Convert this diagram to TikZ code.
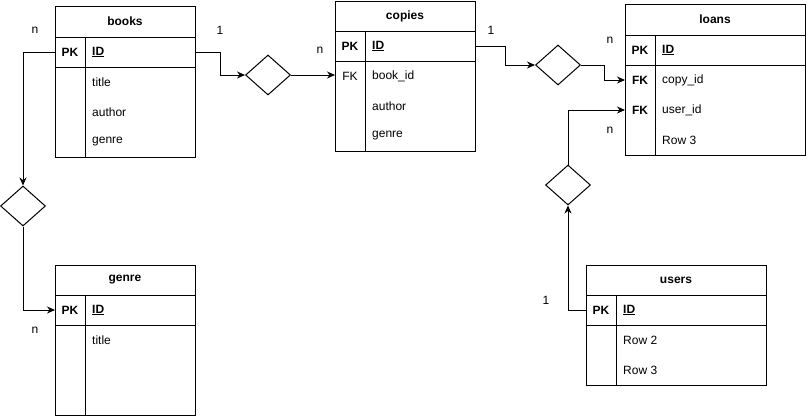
\documentclass[tikz,border=0pt]{standalone}
\usepackage{fontspec}
\setmainfont{Liberation Sans}
\usetikzlibrary{arrows.meta,shapes.geometric}
\begin{document}
\begin{tikzpicture}[x=1pt,y=-1pt,
  every node/.style={font=\fontsize{12}{14}\selectfont},
  box/.style={draw, line width=1pt, inner sep=0pt, outer sep=0pt, anchor=north west},
  hdr/.style={box, font=\fontsize{12}{14}\selectfont\bfseries},
  keyn/.style={anchor=center, inner sep=0pt},
  keyb/.style={keyn, font=\fontsize{12}{14}\selectfont\bfseries},
  fld/.style={anchor=west, inner sep=0pt},
  idf/.style={fld, font=\fontsize{12}{14}\selectfont\bfseries},
  rel/.style={draw, diamond, line width=1pt, minimum width=45pt, minimum height=40pt, inner sep=0pt},
  conn/.style={line width=1pt},
  arr/.style={conn, -{Stealth[length=8pt,width=7pt]}},
  card/.style={inner sep=0pt, anchor=center}
]
\useasboundingbox (0,0) rectangle (806,416);

% ---- books ----
\node[box, minimum width=140pt, minimum height=151pt] (books) at (55,6) {};
\node[hdr, minimum width=140pt, minimum height=31pt] (booksH) at (55,6) {books};
\node[box, minimum width=140pt, minimum height=30pt] (booksPK) at (55,37) {};
\draw[conn] (85,37) -- (85,157);
\node[keyb] (booksK) at (70,52) {PK};
\node[idf] (booksID) at (92,52) {\underline{ID}};
\node[fld] (booksF1) at (92,82) {title};
\node[fld] (booksF2) at (92,112) {author};
\node[fld] (booksF3) at (92,142) {genre};

% ---- copies ----
\node[box, minimum width=140pt, minimum height=150pt] (copies) at (335,1) {};
\node[hdr, minimum width=140pt, minimum height=30pt] (copiesH) at (335,1) {copies};
\node[box, minimum width=140pt, minimum height=30pt] (copiesPK) at (335,31) {};
\node[box, minimum width=140pt, minimum height=30pt, draw=none] (copiesFK) at (335,61) {};
\draw[conn] (365,31) -- (365,151);
\node[keyb] (copiesK) at (350,46) {PK};
\node[idf] (copiesID) at (372,46) {\underline{ID}};
\node[keyn] (copiesK2) at (350,76) {FK};
\node[fld] (copiesF1) at (372,76) {book\_id};
\node[fld] (copiesF2) at (372,106) {author};
\node[fld] (copiesF3) at (372,136) {genre};

% ---- loans ----
\node[box, minimum width=180pt, minimum height=151pt] (loans) at (625,4) {};
\node[hdr, minimum width=180pt, minimum height=31pt] (loansH) at (625,4) {loans};
\node[box, minimum width=180pt, minimum height=30pt] (loansPK) at (625,35) {};
\node[box, minimum width=180pt, minimum height=30pt, draw=none] (loansFK1) at (625,65) {};
\node[box, minimum width=180pt, minimum height=30pt, draw=none] (loansFK2) at (625,95) {};
\draw[conn] (655,35) -- (655,155);
\node[keyb] (loansK) at (640,50) {PK};
\node[idf] (loansID) at (662,50) {\underline{ID}};
\node[keyb] (loansK2) at (640,80) {FK};
\node[fld] (loansF1) at (662,80) {copy\_id};
\node[keyb] (loansK3) at (640,110) {FK};
\node[fld] (loansF2) at (662,110) {user\_id};
\node[fld] (loansF3) at (662,140) {Row 3};

% ---- genre ----
\node[box, minimum width=140pt, minimum height=150pt] (genre) at (55,265) {};
\node[hdr, minimum width=140pt, minimum height=30pt] (genreH) at (55,265) {genre};
\node[box, minimum width=140pt, minimum height=30pt] (genrePK) at (55,295) {};
\draw[conn] (85,295) -- (85,415);
\node[keyb] (genreK) at (70,310) {PK};
\node[idf] (genreID) at (92,310) {\underline{ID}};
\node[fld] (genreF1) at (92,340) {title};

% ---- users ----
\node[box, minimum width=180pt, minimum height=120pt] (users) at (586,265) {};
\node[hdr, minimum width=180pt, minimum height=30pt] (usersH) at (586,265) {users};
\node[box, minimum width=180pt, minimum height=30pt] (usersPK) at (586,295) {};
\draw[conn] (616,295) -- (616,385);
\node[keyb] (usersK) at (601,310) {PK};
\node[idf] (usersID) at (623,310) {\underline{ID}};
\node[fld] (usersF1) at (623,340) {Row 2};
\node[fld] (usersF2) at (623,370) {Row 3};

% ---- relationship diamonds ----
\node[rel] (dg) at (23,206) {};
\node[rel] (dc) at (268,75) {};
\node[rel] (dl) at (558,65) {};
\node[rel] (du) at (568,185) {};

% ---- connectors ----
\draw[arr] (booksPK.west) -| (dg.north);
\draw[arr] (dg.south) |- (genrePK.west);
\draw[arr] (booksPK.east) -- ++(25,0) |- (dc.west);
\draw[arr] (dc.east) -- (dc.east -| copiesFK.west);
\draw[arr] (copiesPK.east) -- ++(30,0) |- (dl.west);
\draw[arr] (dl.east) -- ++(23,0) |- (loansFK1.west);
\draw[arr] (usersPK.west) -| (du.south);
\draw[arr] (du.north) |- (loansFK2.west);

% ---- cardinalities ----
\node[card] (c1) at (35,30) {n};
\node[card] (c2) at (220,30) {1};
\node[card] (c3) at (320,50) {n};
\node[card] (c4) at (491,30) {1};
\node[card] (c5) at (610,40) {n};
\node[card] (c6) at (610,130) {n};
\node[card] (c7) at (546,300) {1};
\node[card] (c8) at (35,330) {n};
\end{tikzpicture}
\end{document}
